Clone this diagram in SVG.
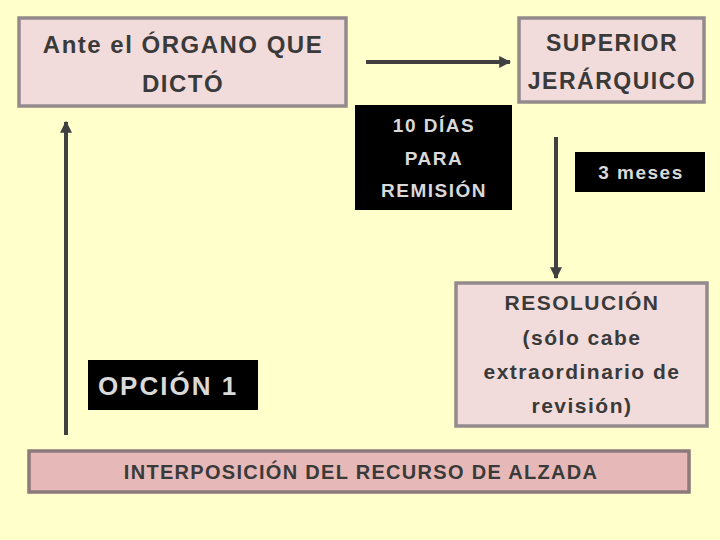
<svg xmlns="http://www.w3.org/2000/svg" width="720" height="540" viewBox="0 0 720 540">
<defs>
<style>
.bg{fill:#FFFFCC}
.box{fill:#F2DCDB;stroke:#938B8B;stroke-width:3.5}
.bar{fill:#E6B9B8;stroke:#8C7A7A;stroke-width:3.5}
.tag{fill:#000000}
.t{font-family:"Liberation Sans",Arial,sans-serif;font-weight:bold;fill:#3A3A3A;text-anchor:middle;letter-spacing:1.5px}
.w{font-family:"Liberation Sans",Arial,sans-serif;font-weight:bold;fill:#D9D9D9;text-anchor:middle;letter-spacing:1.5px}
.c{stroke:#404040;stroke-width:4;fill:none}
</style>
<marker id="ah" viewBox="0 0 10 10" refX="9" refY="5" markerWidth="3" markerHeight="3" orient="auto" markerUnits="strokeWidth">
<path d="M0,0 L10,5 L0,10 z" fill="#404040"/>
</marker>
</defs>
<rect class="bg" x="0" y="0" width="720" height="540"/>
<g id="connectors">
<line class="c" x1="366" y1="62" x2="510" y2="62" marker-end="url(#ah)"/>
<line class="c" x1="556" y1="137" x2="556" y2="278" marker-end="url(#ah)"/>
<line class="c" x1="66" y1="435" x2="66" y2="122" marker-end="url(#ah)"/>
</g>
<g id="organo">
<rect class="box" x="19" y="18" width="327" height="88"/>
<text class="t" font-size="24" x="183" y="53">Ante el ÓRGANO QUE</text>
<text class="t" font-size="24" x="183" y="92">DICTÓ</text>
</g>
<g id="superior">
<rect class="box" x="519" y="18" width="185" height="84"/>
<text class="t" font-size="23" x="612" y="51">SUPERIOR</text>
<text class="t" font-size="23" x="612" y="89">JERÁRQUICO</text>
</g>
<g id="dias">
<rect class="tag" x="355" y="105" width="157" height="105"/>
<text class="w" font-size="19" x="434" y="132">10 DÍAS</text>
<text class="w" font-size="19" x="434" y="165">PARA</text>
<text class="w" font-size="19" x="434" y="197">REMISIÓN</text>
</g>
<g id="meses">
<rect class="tag" x="575" y="152" width="130" height="40"/>
<text class="w" font-size="19" x="641" y="179">3 meses</text>
</g>
<g id="resolucion">
<rect class="box" x="456" y="283" width="251" height="143"/>
<text class="t" font-size="21" x="582" y="310">RESOLUCIÓN</text>
<text class="t" font-size="21" x="582" y="345">(sólo cabe</text>
<text class="t" font-size="21" x="582" y="379">extraordinario de</text>
<text class="t" font-size="21" x="582" y="413">revisión)</text>
</g>
<g id="opcion">
<rect class="tag" x="88" y="360" width="170" height="50"/>
<text class="w" font-size="26" x="168" y="395" style="letter-spacing:2px">OPCIÓN 1</text>
</g>
<g id="interposicion">
<rect class="bar" x="29" y="451" width="660" height="41"/>
<text class="t" font-size="20" x="361" y="479" style="letter-spacing:1.3px">INTERPOSICIÓN DEL RECURSO DE ALZADA</text>
</g>
</svg>
